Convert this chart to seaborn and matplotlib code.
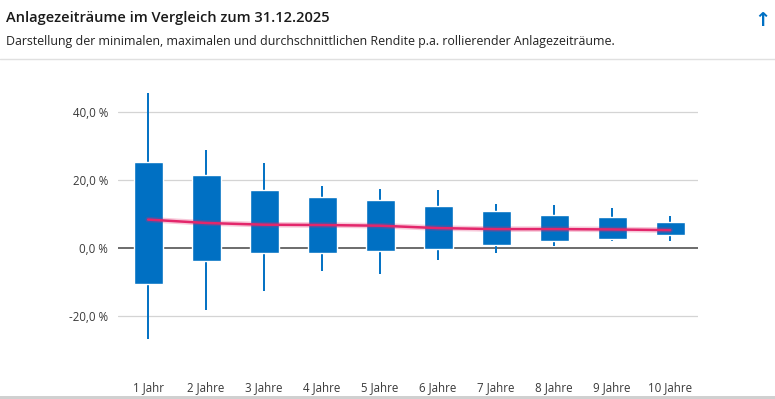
import matplotlib.pyplot as plt
import seaborn as sns
import pandas as pd
from matplotlib.lines import Line2D
from matplotlib.patches import Rectangle

# Rolling return p.a. per holding period (in %)
periods = ["1 Jahr", "2 Jahre", "3 Jahre", "4 Jahre", "5 Jahre",
           "6 Jahre", "7 Jahre", "8 Jahre", "9 Jahre", "10 Jahre"]
whisker_max = [45.6, 28.8, 25.0, 18.2, 17.4, 17.1, 12.9, 12.6, 11.8, 9.4]
box_top = [25.3, 21.5, 17.1, 15.0, 14.1, 12.4, 10.9, 9.7, 9.1, 7.6]
box_bottom = [-10.6, -3.7, -1.4, -1.4, -0.8, -0.2, 1.0, 2.2, 2.7, 3.9]
whisker_min = [-26.8, -18.2, -12.5, -6.7, -7.5, -3.4, -1.4, 0.7, 2.2, 2.2]
mean_return = [8.4, 7.4, 6.9, 6.8, 6.6, 5.9, 5.6, 5.6, 5.5, 5.3]
y_ticks = [-20, 0, 20, 40]

BLUE = "#0070c3"
PINK = "#e3266b"

sns.set_theme(style="white")
plt.rcParams['font.family'] = ['Open Sans', 'DejaVu Sans']

df = pd.DataFrame({
    "period": periods,
    "pos": range(len(periods)),
    "hi": whisker_max,
    "top": box_top,
    "bottom": box_bottom,
    "lo": whisker_min,
    "mean": mean_return,
})

fig = plt.figure(figsize=(7.75, 3.99), dpi=100)
ax = fig.add_axes([118 / 775, 54 / 399, 580 / 775, 260 / 399])

# grid + zero line
for t in y_ticks:
    if t == 0:
        ax.axhline(0, color="#444444", lw=1.1, zorder=1)
    else:
        ax.axhline(t, color="#d4d4d4", lw=0.9, zorder=0)

# whiskers and boxes
ax.vlines(df["pos"], df["lo"], df["hi"], color=BLUE, lw=1.4, zorder=2)
ax.bar(df["pos"], df["top"] - df["bottom"], bottom=df["bottom"],
       width=0.5, color=BLUE, zorder=3)

# average line (light halo + line)
sns.lineplot(data=df, x="pos", y="mean", ax=ax, color=PINK, lw=4,
             alpha=0.25, zorder=4)
sns.lineplot(data=df, x="pos", y="mean", ax=ax, color=PINK, lw=1.8,
             zorder=5)

ax.set_xlim(-0.52, 9.48)
ax.set_ylim(-28.5, 48)
ax.set_xticks(df["pos"])
ax.set_xticklabels(periods)
ax.set_yticks(y_ticks)
ax.set_yticklabels([f"{t:.1f} %".replace(".", ",") for t in y_ticks])
ax.tick_params(axis="both", length=0, labelsize=8.3, labelcolor="#3a3a3a")
ax.tick_params(axis="x", pad=26)
ax.tick_params(axis="y", pad=7)
ax.set_xlabel("")
ax.set_ylabel("")
sns.despine(ax=ax, left=True, bottom=True)

# header
fig.text(6 / 775, 1 - 18 / 399, "Anlagezeiträume im Vergleich zum 31.12.2025",
         fontsize=10.5, fontweight="semibold", color="#1a1a1a", va="center")
fig.text(6 / 775, 1 - 42 / 399,
         "Darstellung der minimalen, maximalen und durchschnittlichen Rendite p.a. rollierender Anlagezeiträume.",
         fontsize=8.9, color="#222222", va="center")
fig.text(762 / 775, 1 - 20 / 399, "↑", fontsize=14, fontweight="bold",
         color="#0070c3", ha="center", va="center", family=['DejaVu Sans'])

# separators
fig.add_artist(Line2D([0, 1], [1 - 58.5 / 399] * 2, color="#e0e0e0", lw=1))
fig.add_artist(Rectangle((0, 0), 1, 3 / 399, color="#d0d0d0", lw=0))

fig.savefig("out.png", dpi=100)
